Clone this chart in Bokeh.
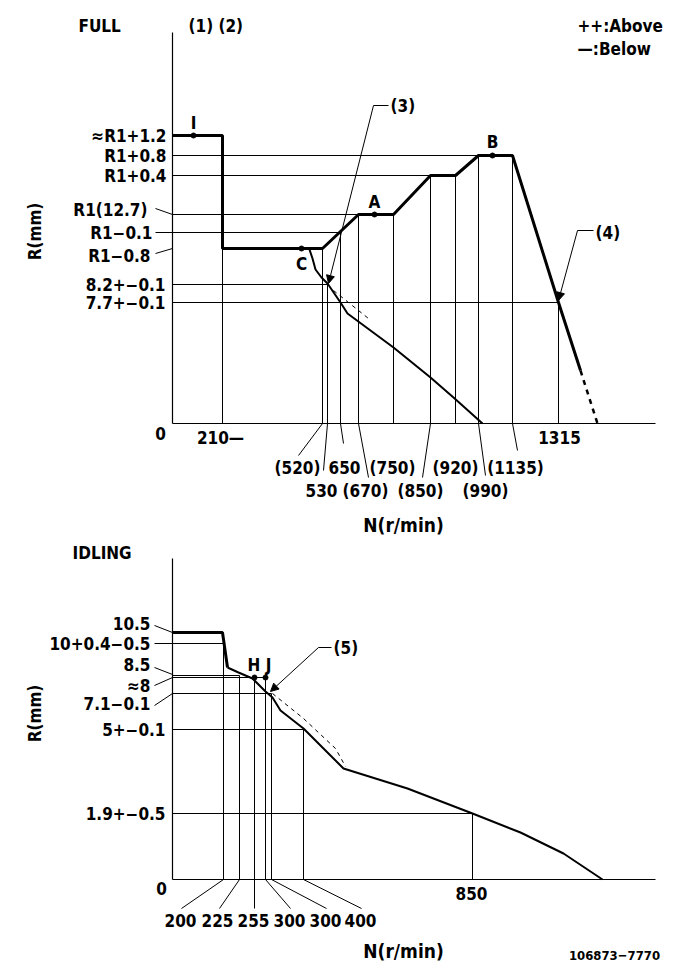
import numpy as np
from bokeh.plotting import figure
from bokeh.layouts import column
from bokeh.models import Range1d, Arrow, NormalHead
from bokeh.core.properties import value
from bokeh.embed import file_html
from bokeh.resources import INLINE

FONT = value("DejaVu Sans Condensed, DejaVu Sans, sans-serif")

# ---------------- FULL (top) diagram: values in the diagram's own units ----------------
full_levels_y = [288, 268, 248, 209, 191, 175, 139, 121]
full_level_labels = ["≈R1+1.2", "R1+0.8", "R1+0.4", "R1(12.7)", "R1−0.1", "R1−0.8", "8.2+−0.1", "7.7+−0.1"]
full_tick_x = [50, 150, 155, 168, 186, 221, 258, 283, 306, 340, 386]
full_tick_labels = ["210—", "(520)", "530", "650", "(670)", "(750)", "(850)", "(920)", "(990)", "(1135)", "1315"]
full_tick_top = [175, 175, 139, 191, 209, 209, 248, 248, 268, 268, 121]
full_hline_y = [268, 248, 209, 191, 139, 121]
full_hline_end = [306, 258, 186, 168, 155, 386]
full_main_x = [0, 50, 50, 150, 186, 221, 258, 283, 306, 340, 386, 408]
full_main_y = [288, 288, 175, 175, 209, 209, 248, 248, 268, 268, 121, 53]
full_main_dash_x = [408, 425]
full_main_dash_y = [53, 0]
full_c_x = [137, 140, 143, 149, 155, 168, 175, 221, 258, 281, 310]
full_c_y = [174, 165, 154, 146, 140, 121, 110, 76, 46, 26, 0]
full_c_dash_x = [161, 196]
full_c_dash_y = [133, 105]
full_points_x = [21, 202, 320, 129]
full_points_y = [288, 209, 268, 175]
full_point_names = ["I", "A", "B", "C"]

# ---------------- IDLING (bottom) diagram ----------------
idl_levels_y = [247, 236, 204, 202, 186, 150, 66]
idl_level_labels = ["10.5", "10+0.4−0.5", "8.5", "≈8", "7.1−0.1", "5+−0.1", "1.9+−0.5"]
idl_tick_x = [51, 67, 82, 93, 99, 131, 300]
idl_tick_labels = ["200", "225", "255", "300", "300", "400", "850"]
idl_tick_top = [236, 204, 202, 202, 186, 150, 66]
idl_hline_y = [236, 204, 202, 186, 150, 66]
idl_hline_end = [51, 67, 93, 99, 131, 300]
idl_thick_x = [0, 50, 55]
idl_thick_y = [247, 247, 212]
idl_curve_x = [55, 66, 80, 93, 100, 108, 131, 171, 235, 300, 348, 391, 430]
idl_curve_y = [212, 207, 201, 188, 182, 169, 151, 111, 91, 66, 47, 26, 0]
idl_dash_x = [100, 131, 163, 173]
idl_dash_y = [186, 161, 131, 113]
idl_points_x = [82, 93]
idl_points_y = [202, 202]

FS = "17px"
TXT = dict(text_font=FONT, text_font_style="bold", text_color="black")


def base_fig(height, y0, y1):
    p = figure(width=665, height=height, x_range=Range1d(-172, 493), y_range=Range1d(y0, y1),
               output_backend="svg", toolbar_location=None, min_border=0)
    p.xaxis.visible = False
    p.yaxis.visible = False
    p.grid.visible = False
    p.outline_line_color = None
    return p


def label(p, x, y, t, align="left", size=FS, angle=0.0):
    p.text(x=[x], y=[y], text=[t], text_align=align, text_baseline="middle", angle=angle,
           text_font_size=size, **TXT)


def arrow(p, x0, y0, x1, y1):
    p.add_layout(Arrow(end=NormalHead(size=8, fill_color="black", line_color="black", line_width=1),
                       x_start=x0, y_start=y0, x_end=x1, y_end=y1, line_width=1, line_color="black"))


# ================= TOP =================
top = base_fig(538, -115, 423)
top.segment(x0=[0, 0], y0=[0, 0], x1=[0, 483], y1=[391, 0], line_color="black", line_width=1.2)
top.segment(x0=[0] * len(full_hline_y), y0=full_hline_y, x1=full_hline_end, y1=full_hline_y,
            line_color="black", line_width=1)
top.segment(x0=full_tick_x, y0=[0] * len(full_tick_x), x1=full_tick_x, y1=full_tick_top,
            line_color="black", line_width=1)
top.line(full_main_x, full_main_y, line_color="black", line_width=3)
top.line(full_main_dash_x, full_main_dash_y, line_color="black", line_width=2.5, line_dash="5 5")
top.line(full_c_x, full_c_y, line_color="black", line_width=2)
top.line(full_c_dash_x, full_c_dash_y, line_color="black", line_width=1, line_dash="4 4")
top.scatter(full_points_x, full_points_y, size=5, color="black")

lab_x = [-6, -6, -6, -25, -20, -22, -7, -7]
lab_y = [288, 268, 248, 214, 191, 168, 139, 121]
for t, x, y in zip(full_level_labels, lab_x, lab_y):
    label(top, x, y, t, align="right")
top.segment(x0=[-17, -17, -17], y0=[215, 191, 170], x1=[0, 0, 0], y1=[209, 191, 175],
            line_color="black", line_width=1)

tick_lx = [48, 125, 149, 172, 193, 220, 248, 283, 313, 343, 387]
tick_ly = [-14, -44, -67, -44, -67, -44, -67, -44, -67, -44, -14]
for t, x, y in zip(full_tick_labels, tick_lx, tick_ly):
    label(top, x, y, t, align="center")
label(top, -12, -10, "0", align="center")
top.segment(x0=[150, 155, 168, 186, 258, 306, 340], y0=[0] * 7,
            x1=[126, 151, 171, 196, 250, 313, 345], y1=[-32, -47, -20, -54, -54, -52, -27],
            line_color="black", line_width=1)

for t, x, y in zip(full_point_names, [21, 202, 320, 129], [301, 222, 282, 160]):
    label(top, x, y, t, align="center")

label(top, 218, 318, "(3)")
top.segment(x0=[201], y0=[318], x1=[216], y1=[318], line_color="black", line_width=1)
arrow(top, 201, 318, 156, 140)
label(top, 423, 191, "(4)")
top.segment(x0=[405], y0=[193], x1=[421], y1=[193], line_color="black", line_width=1)
arrow(top, 405, 193, 386, 123)

label(top, -94, 398, "FULL")
label(top, 16, 398, "(1) (2)")
label(top, 405, 398, "++:Above")
label(top, 405, 375, "—:Below")
label(top, 231, -101, "N(r/min)", align="center", size="19px")
label(top, -138, 192, "R(mm)", align="center", angle=np.pi / 2)

# ================= BOTTOM =================
bot = base_fig(425, -84, 341)
bot.segment(x0=[0, 0], y0=[0, 0], x1=[0, 483], y1=[321, 0], line_color="black", line_width=1.2)
bot.segment(x0=[0] * len(idl_hline_y), y0=idl_hline_y, x1=idl_hline_end, y1=idl_hline_y,
            line_color="black", line_width=1)
bot.segment(x0=idl_tick_x, y0=[0] * len(idl_tick_x), x1=idl_tick_x, y1=idl_tick_top,
            line_color="black", line_width=1)
bot.line(idl_thick_x, idl_thick_y, line_color="black", line_width=3)
bot.line(idl_curve_x, idl_curve_y, line_color="black", line_width=2)
bot.line(idl_dash_x, idl_dash_y, line_color="black", line_width=1, line_dash="4 4")
bot.scatter(idl_points_x, idl_points_y, size=5, color="black")

blab_x = [-22, -22, -22, -22, -22, -7, -7]
blab_y = [256, 236, 215, 194, 176, 150, 66]
for t, x, y in zip(idl_level_labels, blab_x, blab_y):
    label(bot, x, y, t, align="right")
bot.segment(x0=[-18, -18, -18, -18, -18], y0=[254, 236, 212, 194, 174],
            x1=[0, 0, 0, 0, 0], y1=[247, 236, 205, 202, 186], line_color="black", line_width=1)

btick_lx = [8, 45, 81, 117, 153, 188, 299]
btick_ly = [-41, -41, -41, -41, -41, -41, -14]
for t, x, y in zip(idl_tick_labels, btick_lx, btick_ly):
    label(bot, x, y, t, align="center")
label(bot, -11, -9, "0", align="center")
bot.segment(x0=[51, 67, 82, 93, 99, 131], y0=[0] * 6,
            x1=[9, 47, 82, 118, 154, 189], y1=[-29] * 6, line_color="black", line_width=1)

label(bot, 87, 215, "H J", align="center")
label(bot, 161, 232, "(5)")
bot.segment(x0=[146], y0=[232], x1=[159], y1=[232], line_color="black", line_width=1)
arrow(bot, 146, 232, 98, 188)

label(bot, -100, 327, "IDLING")
label(bot, 231, -71, "N(r/min)", align="center", size="19px")
label(bot, 442, -76, "106873−7770", align="center", size="13px")
label(bot, -138, 166, "R(mm)", align="center", angle=np.pi / 2)

layout = column(top, bot, spacing=0)
open("out.html", "w").write(file_html(layout, INLINE))
